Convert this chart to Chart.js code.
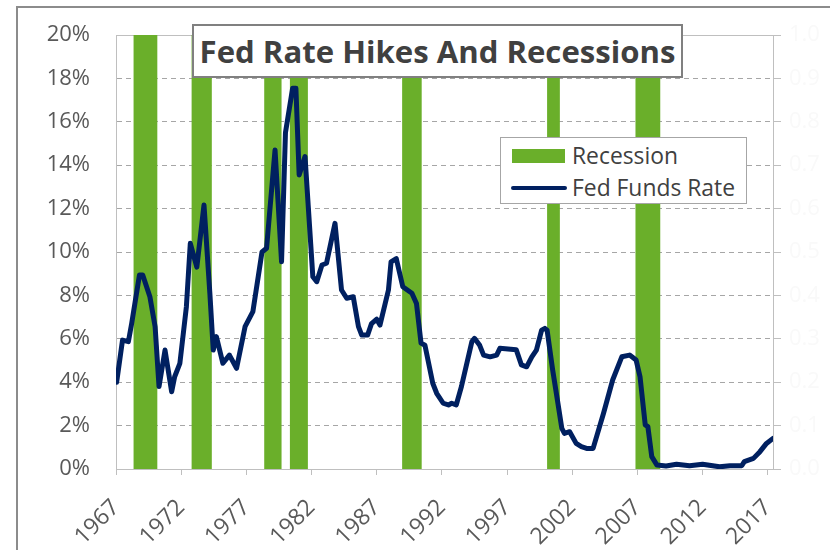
<!DOCTYPE html>
<html>
<head>
<meta charset="utf-8">
<script src="https://cdn.jsdelivr.net/npm/chart.js@4.4.1/dist/chart.umd.min.js"></script>
<style>
  body { margin: 0; background: #fff; }
  #wrap { position: relative; width: 830px; height: 550px; overflow: hidden; }
  #frame { position: absolute; left: 16px; top: 6px; width: 900px; height: 600px;
           border-top: 2px solid #8c8c8c; border-left: 2px solid #8c8c8c; }
  #title { position: absolute; left: 192px; top: 24px; width: 487px; height: 50px;
           border: 2px solid #808080; background: #fff; text-align: center;
           font-family: "Open Sans", sans-serif; font-weight: bold; color: #404040;
           line-height: 50px; white-space: nowrap; }
  #legend { position: absolute; left: 500px; top: 137px; width: 245px; height: 65px;
            border: 1px solid #a6a6a6; background: #fff;
            font-family: "Open Sans", sans-serif; color: #404040; }
  .row { position: absolute; left: 0; height: 30px; width: 245px; }
  .row span.txt { position: absolute; left: 71px; top: 0; line-height: 30px; white-space: nowrap; }
  .sw { position: absolute; left: 11px; top: 8px; width: 53px; height: 14px; background: #6aaf2a; }
  .ln { position: absolute; left: 10px; top: 13px; width: 56px; height: 4px; border-radius: 2px; background: #002060; }
  canvas { position: absolute; left: 0; top: 0; }
</style>
</head>
<body>
<div id="wrap">
  <div id="frame"></div>
  <canvas id="chart" width="830" height="550"></canvas>
  <div id="title"><span id="titleText">Fed Rate Hikes And Recessions</span></div>
  <div id="legend">
    <div class="row" style="top:3px"><div class="sw"></div><span class="txt" id="lg1">Recession</span></div>
    <div class="row" style="top:35px"><div class="ln"></div><span class="txt" id="lg2">Fed Funds Rate</span></div>
  </div>
</div>
<script>
// data
const tickYears = [1967, 1972, 1977, 1982, 1987, 1992, 1997, 2002, 2007, 2012, 2017];

const recStart = [1968.33, 1972.8, 1978.37, 1980.34, 1988.95, 2000.07, 2006.85];
const recEnd   = [1970.17, 1974.35, 1979.7, 1981.72, 1990.45, 2001.05, 2008.77];

const fedYears = [
    1967.05, 1967.5, 1967.95, 1968.2, 1968.8, 1969.05, 1969.6, 1970.0, 1970.3, 1970.76,
    1971.27, 1971.5, 1971.9, 1972.4, 1972.7, 1973.2, 1973.75, 1974.2, 1974.46, 1974.7,
    1975.2, 1975.7, 1976.25, 1976.9, 1977.5, 1978.2, 1978.55, 1979.2, 1979.7, 1980.0,
    1980.55, 1980.8, 1981.05, 1981.5, 1982.1, 1982.4, 1982.8, 1983.15, 1983.8, 1984.3,
    1984.7, 1985.2, 1985.6, 1985.85, 1986.3, 1986.6, 1987.0, 1987.25, 1987.9, 1988.1,
    1988.5, 1989.0, 1989.7, 1990.05, 1990.4, 1990.7, 1991.3, 1991.6, 1992.1, 1992.5,
    1992.75, 1993.1, 1993.5, 1994.3, 1994.5, 1994.9, 1995.2, 1995.7, 1996.2, 1996.45,
    1997.7, 1998.1, 1998.5, 1998.9, 1999.25, 1999.65, 1999.9, 2000.07, 2000.5, 2000.9,
    2001.2, 2001.4, 2001.8, 2002.3, 2002.7, 2003.1, 2003.6, 2004.4, 2005.1, 2005.8,
    2006.4, 2006.9, 2007.2, 2007.6, 2007.8, 2008.1, 2008.5, 2009.2, 2010.0, 2011.0,
    2012.0, 2013.3, 2014.1, 2015.0, 2015.2, 2015.9, 2016.4, 2016.9, 2017.4
];
const fedRates = [
    4.0, 5.94, 5.87, 6.7, 8.94, 8.94, 7.94, 6.56, 3.8, 5.48,
    3.56, 4.25, 4.87, 7.48, 10.4, 9.3, 12.17, 8.1, 5.48, 6.1,
    4.87, 5.25, 4.64, 6.56, 7.25, 10.0, 10.17, 14.7, 9.55, 15.5,
    17.55, 17.55, 13.55, 14.4, 8.86, 8.63, 9.4, 9.48, 11.32, 8.25,
    7.87, 7.94, 6.56, 6.17, 6.17, 6.7, 6.9, 6.63, 8.25, 9.55,
    9.7, 8.4, 8.1, 7.63, 5.8, 5.7, 3.95, 3.49, 3.03, 2.95,
    3.03, 2.95, 3.8, 5.87, 6.02, 5.7, 5.25, 5.17, 5.25, 5.56,
    5.5, 4.8, 4.71, 5.17, 5.48, 6.4, 6.48, 6.4, 4.56, 3.03,
    1.87, 1.64, 1.72, 1.18, 1.03, 0.95, 0.95, 2.57, 4.1, 5.17,
    5.25, 5.02, 4.25, 2.03, 1.95, 0.57, 0.18, 0.14, 0.22, 0.15,
    0.22, 0.1, 0.15, 0.15, 0.34, 0.49, 0.8, 1.18, 1.41
];

const yMax = 20;

// fit overlay text to the width it has in the picture
function fitText(id, targetWidth, startSize) {
    let el = document.getElementById(id);
    el.style.fontSize = startSize + 'px';
    let w = el.getBoundingClientRect().width;
    el.style.fontSize = (startSize * targetWidth / w).toFixed(2) + 'px';
}
fitText('titleText', 476, 28);
fitText('lg2', 163, 20);
document.getElementById('lg1').style.fontSize = document.getElementById('lg2').style.fontSize;

let recPoints = [];
for (let i = 0; i < recStart.length; i++) {
    recPoints.push({ x: recStart[i], y: 0 }, { x: recStart[i], y: yMax },
                   { x: recEnd[i], y: yMax }, { x: recEnd[i], y: 0 });
}
let fedPoints = fedYears.map((y, i) => ({ x: y, y: fedRates[i] }));

const plotTop = {
    id: 'plotTop',
    beforeDatasetsDraw(chart) {
        let a = chart.chartArea;
        let ctx = chart.ctx;
        ctx.save();
        ctx.strokeStyle = '#bfbfbf';
        ctx.lineWidth = 1;
        ctx.beginPath();
        ctx.moveTo(a.left, a.top + 0.5);
        ctx.lineTo(a.right, a.top + 0.5);
        ctx.stroke();
        ctx.restore();
    }
};

// fixed box sizes; drop the label overhang so layout padding sets the plot top
function fixWidth(w) {
    return (axis) => { axis.width = w; axis.paddingTop = 0; axis.paddingBottom = 0; };
}

const tickFont = { family: 'Open Sans', size: 22 };

new Chart(document.getElementById('chart'), {
    type: 'line',
    data: {
        datasets: [
            {
                label: 'Fed Funds Rate',
                data: fedPoints,
                borderColor: '#002060',
                borderWidth: 5,
                pointRadius: 0,
                tension: 0,
                borderJoinStyle: 'round',
                borderCapStyle: 'round',
                fill: false,
                order: 0
            },
            {
                label: 'Recession',
                data: recPoints,
                borderWidth: 0,
                borderColor: 'rgba(0,0,0,0)',
                backgroundColor: '#6aaf2a',
                pointRadius: 0,
                tension: 0,
                fill: 'origin',
                order: 1
            }
        ]
    },
    options: {
        responsive: false,
        animation: false,
        layout: { padding: { top: 35, left: 0, right: 0, bottom: 0 } },
        plugins: { legend: { display: false }, tooltip: { enabled: false } },
        scales: {
            x: {
                type: 'linear',
                min: 1967,
                max: 2017.4,
                afterBuildTicks: (axis) => { axis.ticks = tickYears.map(v => ({ value: v })); },
                afterFit: (axis) => { axis.height = 81; },
                grid: { drawOnChartArea: false, drawTicks: true, tickLength: 6, color: '#bfbfbf' },
                border: { color: '#bfbfbf' },
                ticks: {
                    font: { family: 'Open Sans', size: 23 }, color: '#595959',
                    maxRotation: 45, minRotation: 45, padding: 19,
                    callback: (v) => String(v)
                }
            },
            y: {
                min: 0,
                max: yMax,
                afterFit: fixWidth(116),
                ticks: {
                    stepSize: 2, font: tickFont, color: '#595959', padding: 26,
                    callback: (v) => v + '%'
                },
                grid: { color: '#a6a6a6', drawTicks: false },
                border: { color: '#bfbfbf', dash: [5, 4] }
            },
            y2: {
                position: 'right',
                min: 0,
                max: 1,
                afterFit: fixWidth(57),
                ticks: {
                    stepSize: 0.1, font: tickFont, color: '#f9f9f9', padding: 8,
                    callback: (v) => v.toFixed(1)
                },
                grid: { drawOnChartArea: false, drawTicks: true, tickLength: 8, color: '#bfbfbf' },
                border: { color: '#bfbfbf' }
            }
        }
    },
    plugins: [plotTop]
});
</script>
</body>
</html>
